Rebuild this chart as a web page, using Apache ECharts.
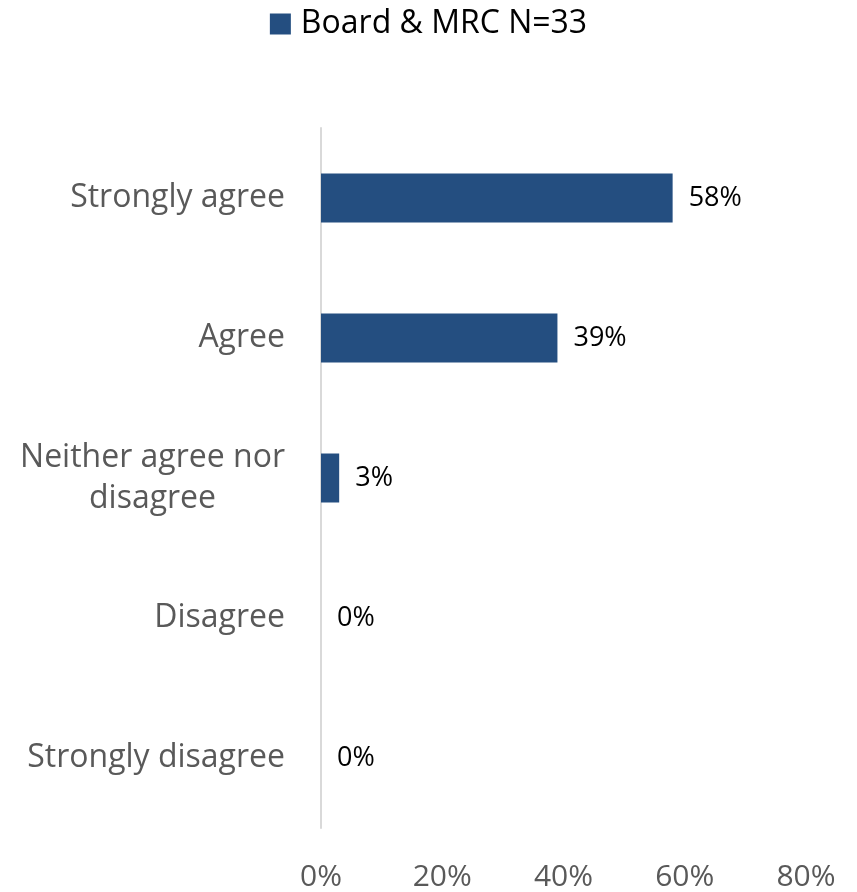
<!DOCTYPE html>
<html>
<head>
<meta charset="utf-8">
<script src="https://cdn.jsdelivr.net/npm/echarts@6/dist/echarts.min.js"></script>
<style>
  html, body { margin: 0; padding: 0; background: #fff; }
  #chart { width: 857px; height: 892px; }
</style>
</head>
<body>
<div id="chart"></div>
<script>
// Survey responses, listed top to bottom
const categories = [
  'Strongly agree',
  'Agree',
  'Neither agree nor\ndisagree',
  'Disagree',
  'Strongly disagree'
];
const seriesName = 'Board & MRC N=33';
const values = [58, 39, 3, 0, 0];
const tickValues = [0, 20, 40, 60, 80];

const FONT = '"Open Sans", "Noto Sans", sans-serif';
const CAT_SIZE = 32;

// Wrapped labels keep their lines centred inside a right-aligned block
const measureCtx = document.createElement('canvas').getContext('2d');
measureCtx.font = CAT_SIZE + 'px ' + FONT;
const categoryData = categories.map(function (c) {
  const lines = c.split('\n');
  if (lines.length < 2) return c;
  const w = Math.max.apply(null, lines.map(function (l) { return measureCtx.measureText(l).width; }));
  return { value: c, textStyle: { align: 'center', padding: [0, w, 0, 0] } };
});

const chart = echarts.init(document.getElementById('chart'));

chart.setOption({
  animation: false,
  textStyle: { fontFamily: FONT },
  legend: {
    top: 3,
    left: 'center',
    itemWidth: 21,
    itemHeight: 21,
    itemGap: 10,
    icon: 'rect',
    textStyle: { fontSize: 32, color: '#000', fontFamily: FONT, padding: [0, 0, 0, 5] },
    data: [seriesName]
  },
  grid: { left: 321, right: 51, top: 128, bottom: 64, containLabel: false },
  xAxis: {
    type: 'value',
    min: tickValues[0],
    max: tickValues[tickValues.length - 1],
    interval: 20,
    axisLine: { show: false },
    axisTick: { show: false },
    splitLine: { show: false },
    axisLabel: {
      formatter: '{value}%',
      fontSize: 30,
      color: '#595959',
      margin: 34,
      fontFamily: FONT
    }
  },
  yAxis: {
    type: 'category',
    inverse: true,
    data: categoryData,
    axisLine: { show: true, lineStyle: { color: '#d9d9d9', width: 2 } },
    axisTick: { show: false },
    axisLabel: {
      fontSize: CAT_SIZE,
      color: '#595959',
      margin: 36,
      lineHeight: 41,
      align: 'right',
      fontFamily: FONT
    }
  },
  series: [{
    name: seriesName,
    type: 'bar',
    data: values,
    barWidth: 49,
    itemStyle: { color: '#244e80' },
    label: {
      show: true,
      position: 'right',
      distance: 16,
      formatter: '{c}%',
      fontSize: 27,
      color: '#000',
      fontFamily: FONT
    }
  }]
});
</script>
</body>
</html>
